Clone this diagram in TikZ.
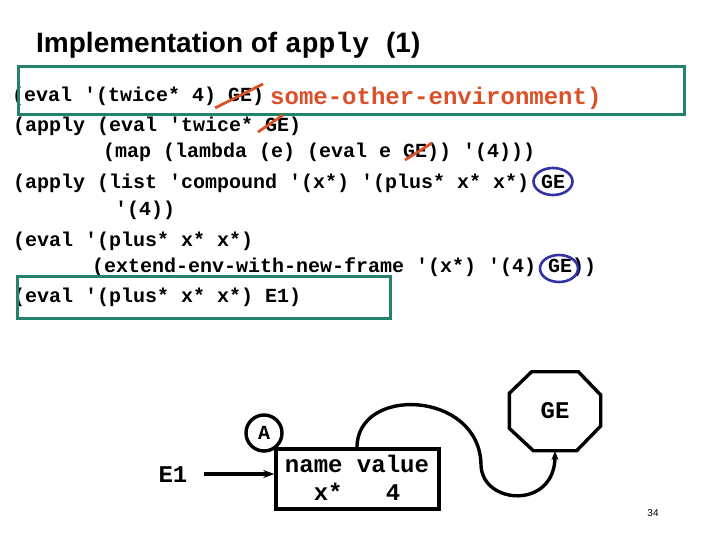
\documentclass[tikz,border=0pt]{standalone}
\usepackage{fontspec}
\setmainfont{Liberation Sans}
\setmonofont{Liberation Mono}
\usetikzlibrary{arrows.meta}
\definecolor{boxgreen}{RGB}{35,130,110}
\definecolor{strikered}{RGB}{220,80,40}
\definecolor{circblue}{RGB}{50,50,165}
\tikzset{
  code/.style={font={\fontsize{20}{22}\selectfont\ttfamily\bfseries}, anchor=base west, inner sep=0pt},
  bigcode/.style={font={\fontsize{24}{26}\selectfont\ttfamily\bfseries}, inner sep=0pt},
  hibox/.style={draw=boxgreen, line width=3pt},
  strike/.style={draw=strikered, line width=2.8pt},
  ring/.style={draw=circblue, line width=2.6pt},
  heavy/.style={line width=3.4pt},
}
\begin{document}
\begin{tikzpicture}[x=1pt,y=-1pt]
\useasboundingbox (0,0) rectangle (720,540);
% title
\node[anchor=base west, inner sep=0pt, font={\fontsize{28}{30}\selectfont\bfseries}] (title) at (36,53)
  {Implementation of {\ttfamily apply}\hspace{17pt}(1)};
% code lines
\node[code] (l1) at (12,101.5) {(eval '(twice* 4) GE)};
\node[code, text=strikered, font={\fontsize{24}{26}\selectfont\ttfamily\bfseries}] (l1b) at (270,104.5) {some-other-environment)};
\node[code] (l2) at (13,132) {(apply (eval 'twice* GE)};
\node[code] (l3) at (103,158) {(map (lambda (e) (eval e GE)) '(4)))};
\node[code] (l4) at (13,188.5) {(apply (list 'compound '(x*) '(plus* x* x*) GE};
\node[code] (l5) at (115,215.5) {'(4))};
\node[code] (l6) at (13,246) {(eval '(plus* x* x*)};
\node[code] (l7) at (92,272.5) {(extend-env-with-new-frame '(x*) '(4) GE))};
\node[code] (l8) at (13,302.5) {(eval '(plus* x* x*) E1)};
% highlight boxes
\draw[hibox] (18,67) rectangle (684,115);
\draw[hibox] (17.5,276) rectangle (390.5,318);
% strikes
\draw[strike] (215,108) -- (263,84);
\draw[strike] (258,132) -- (283,115);
\draw[strike] (405,160) -- (432,143);
% blue rings
\draw[ring] (553,181.5) ellipse [x radius=19.5, y radius=13.5];
\draw[ring] (559,268.5) ellipse [x radius=19, y radius=13.5];
% environment diagram
\node[bigcode, anchor=base] (e1) at (173,482) {E1};
\node[draw, heavy, minimum width=163pt, minimum height=60pt, inner sep=0pt] (frame) at (357.5,479) {};
\node[bigcode, anchor=base] (hdr) at (357,472) {name value};
\node[bigcode, anchor=base] (row) at (357,500) {x*~~~4};
\node[draw, heavy, circle, minimum size=36pt, inner sep=0pt, font={\fontsize{20}{22}\selectfont\ttfamily\bfseries}] (a) at (264,433) {A};
\draw[heavy, line join=miter] (531.7,371.7) -- (578.3,371.7) -- (600.7,395) -- (600.7,426) -- (576.7,450.7) -- (533.3,450.7) -- (509.3,428.3) -- (509.3,393.3) -- cycle;
\node[bigcode, anchor=base] (ge) at (555,418) {GE};
\coordinate (geb) at (555,451);
\coordinate (e1a) at (204,474);
\coordinate (frtop) at (357,449);
\draw[heavy, -{Stealth[length=11pt,width=8pt]}] (e1a) -- (frame.west |- e1a);
\draw[heavy, -{Stealth[length=9pt,width=7pt]}] (frtop) .. controls (355,385) and (480,390) .. (481,465) .. controls (482,505) and (555,510) .. (geb);
\node[font=\fontsize{10}{12}\selectfont, inner sep=0pt] (pg) at (653,513) {34};
\end{tikzpicture}
\end{document}
